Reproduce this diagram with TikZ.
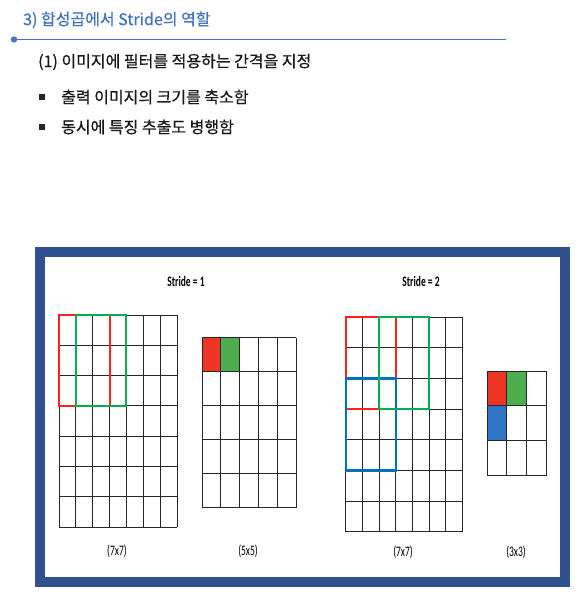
\documentclass[tikz,border=0pt]{standalone}
\usepackage{fontspec}
\newfontfamily\krfont[FakeBold=0.6]{Noto Sans CJK KR}
\newfontfamily\calfont{Carlito}
\definecolor{titleblue}{HTML}{4472C4}
\definecolor{frameblue}{HTML}{2F528F}
\definecolor{winred}{HTML}{FF2020}
\definecolor{wingreen}{HTML}{00B050}
\definecolor{winblue}{HTML}{0070C0}
\definecolor{fillred}{HTML}{EE3524}
\definecolor{fillgreen}{HTML}{4EAE4E}
\definecolor{fillblue}{HTML}{2E75C6}
\newcommand\mygrid[6]{%
  \foreach \i in {0,...,#3} \draw[gridline] ({#1+\i*#5},#2) -- ++(0,{#4*#6});
  \foreach \j in {0,...,#4} \draw[gridline] (#1,{#2+\j*#6}) -- ++({#3*#5},0);
}
\newcommand\tallsm[1]{\scalebox{0.95}[1.45]{#1}}
\begin{document}
\begin{tikzpicture}[x=1pt,y=-1pt,
  gridline/.style={draw=black!85,line width=0.9pt},
  win/.style={line width=2.2pt},
  krtext/.style={font=\krfont\fontsize{16}{19}\selectfont,anchor=west,inner sep=0pt},
  smalllab/.style={font=\calfont\fontsize{10}{12}\selectfont,inner sep=0pt},
  boldlab/.style={font=\calfont\bfseries\fontsize{10}{12}\selectfont,inner sep=0pt},
  bulletsq/.style={fill=black!85,minimum size=5.5pt,inner sep=0pt}]
\useasboundingbox (0,0) rectangle (580,601);
\fill[white] (0,0) rectangle (580,601);
% header
\node[krtext,text=titleblue] (title) at (23,20) {3) 합성곱에서 Stride의 역할};
\fill[titleblue] (14,39.5) circle (3.2) coordinate (dot);
\coordinate (lineend) at (506,39.5);
\draw[titleblue,line width=1pt] (dot) -- (lineend);
\node[krtext,text=black!90] (sub) at (38,62) {(1) 이미지에 필터를 적용하는 간격을 지정};
\node[bulletsq] (b1) at (42,97) {};
\node[krtext,text=black!90] (t1) at (61,97) {출력 이미지의 크기를 축소함};
\node[bulletsq] (b2) at (42,127) {};
\node[krtext,text=black!90] (t2) at (61,127) {동시에 특징 추출도 병행함};
% frame
\draw[frameblue,line width=10pt] (40,252) rectangle (564.5,582);
% stride 1
\node[boldlab] (s1) at (186,281) {\tallsm{Stride = 1}};
\mygrid{59}{315}{7}{7}{16.86}{30.3}
\draw[win,winred] (59,315) rectangle (109.6,405.9);
\draw[win,wingreen] (75.9,315) rectangle (126.1,405.9);
\fill[fillred] (202,337.7) rectangle (220.8,371.7);
\fill[fillgreen] (220.8,337.7) rectangle (239.6,371.7);
\mygrid{202}{337.7}{5}{5}{18.8}{34}
\node[smalllab] (l1) at (117,551) {\tallsm{(7x7)}};
\node[smalllab] (l2) at (248,551) {\tallsm{(5x5)}};
% stride 2
\node[boldlab] (s2) at (421,281) {\tallsm{Stride = 2}};
\mygrid{345.7}{317}{7}{7}{16.66}{30.7}
\draw[win,winred] (345.7,317) rectangle (395.7,409.1);
\draw[win,winblue] (345.7,378.4) rectangle (395.7,470.5);
\draw[win,wingreen] (379,317) rectangle (429,409.1);
\fill[fillred] (487,371) rectangle (506.7,405.9);
\fill[fillgreen] (506.7,371) rectangle (526.4,405.9);
\fill[fillblue] (487,405.9) rectangle (506.7,440.8);
\mygrid{487}{371}{3}{3}{19.7}{34.9}
\node[smalllab] (l3) at (403,552) {\tallsm{(7x7)}};
\node[smalllab] (l4) at (516,552) {\tallsm{(3x3)}};
\end{tikzpicture}
\end{document}
